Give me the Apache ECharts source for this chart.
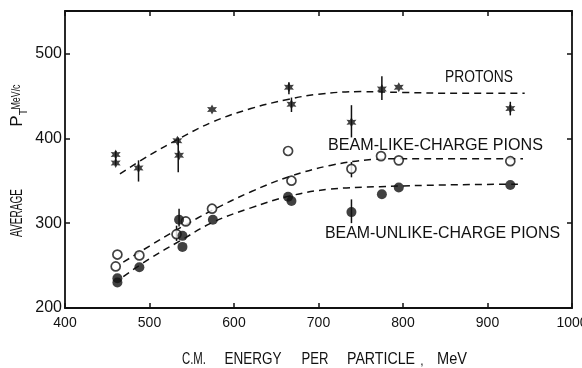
<!DOCTYPE html>
<html>
<head>
<meta charset="utf-8">
<script src="https://cdn.jsdelivr.net/npm/echarts@6/dist/echarts.min.js"></script>
<style>
  html, body { margin: 0; padding: 0; background: #fff; }
  #chart { width: 582px; height: 368px; }
</style>
</head>
<body>
<div id="chart"></div>
<script>
// ---- Data ----
const xTicks = [400, 500, 600, 700, 800, 900, 1000];
const yTicks = [200, 300, 400, 500];

// Protons (stars)
const protonX = [460, 460, 487, 533, 535, 574, 665, 668, 739, 775, 795, 927];
const protonY = [381, 371, 365, 397, 380, 434, 460, 440, 419, 458, 460, 435];
const protonErrX  = [460, 487, 534, 665, 668, 739, 775, 927];
const protonErrLo = [368, 349, 360, 452, 431, 401, 445, 427];
const protonErrHi = [385, 374, 401, 466, 448, 439, 473, 443];

// Beam-like-charge pions (open circles)
const likeX = [460, 462, 488, 532, 543, 574, 664, 668, 739, 774, 795, 927];
const likeY = [249, 263, 262, 287, 302, 317, 385, 350, 364, 379, 374, 373];
const likeErrX  = [532, 739];
const likeErrLo = [279, 354];
const likeErrHi = [297, 372];

// Beam-unlike-charge pions (filled circles)
const unlikeX = [462, 462, 488, 535, 539, 539, 575, 664, 668, 739, 775, 795, 927];
const unlikeY = [235, 230, 248, 304, 285, 272, 304, 331, 326, 313, 334, 342, 345];
const unlikeErrX  = [535, 739];
const unlikeErrLo = [296, 300];
const unlikeErrHi = [317, 328];

// Dashed guide curves
const protonCurveX = [465, 500, 536, 574, 620, 665, 700, 750, 800, 870, 944];
const protonCurveY = [358, 380, 400, 419, 435, 446, 452, 455, 454, 453, 453];
const likeCurveX = [469, 500, 532, 574, 620, 666, 714, 764, 800, 870, 942];
const likeCurveY = [254, 273, 292, 315, 337, 355, 368, 375, 376, 376, 376];
const unlikeCurveX = [469, 500, 536, 575, 620, 666, 713, 773, 850, 942];
const unlikeCurveY = [237, 258, 279, 301, 318, 332, 340, 343, 345, 346];

// Texts
const xTitleWords = ['C.M.', 'ENERGY', 'PER', 'PARTICLE', ',', 'MeV'];
const yTitleParts = ['AVERAGE', 'P', 'T', 'MeV/c'];
const curveLabels = ['PROTONS', 'BEAM-LIKE-CHARGE PIONS', 'BEAM-UNLIKE-CHARGE PIONS'];

// ---- Helpers ----
const INK = '#111';
const FONT = 'Liberation Sans';
const zip = (a, b) => a.map((v, i) => [v, b[i]]);
const zip3 = (a, b, c) => a.map((v, i) => [v, b[i], c[i]]);

const mctx = document.createElement('canvas').getContext('2d');
function fitScale(text, size, target) {
  mctx.font = size + 'px "' + FONT + '"';
  const w = mctx.measureText(text).width;
  return w > 0 ? target / w : 1;
}
function txt(text, x, y, size, targetW, opts) {
  opts = opts || {};
  const s = targetW ? fitScale(text, size, targetW) : 1;
  return {
    type: 'text', x: x, y: y, rotation: opts.rotation || 0,
    scaleX: s, scaleY: 1, silent: true,
    style: {
      text: text, fill: INK, font: size + 'px "' + FONT + '"',
      textAlign: opts.align || 'center', textVerticalAlign: 'middle'
    }
  };
}

const errRender = function (params, api) {
  const p1 = api.coord([api.value(0), api.value(1)]);
  const p2 = api.coord([api.value(0), api.value(2)]);
  return {
    type: 'line',
    shape: { x1: p1[0], y1: p1[1], x2: p2[0], y2: p2[1] },
    style: { stroke: INK, lineWidth: 1.5 }
  };
};

const starPath = 'path://M0,-10 L2.6,-4.5 L8.7,-5 L5.2,0 L8.7,5 L2.6,4.5 L0,10 L-2.6,4.5 L-8.7,5 L-5.2,0 L-8.7,-5 L-2.6,-4.5 Z';

const dashStyle = { color: INK, width: 1.5, type: [7, 5] };

const axisCommon = {
  axisLine: { show: true, onZero: false, lineStyle: { color: INK, width: 1.8 } },
  axisTick: { show: true, inside: true, length: 5, lineStyle: { color: INK, width: 1.5 } },
  splitLine: { show: false },
};

const chart = echarts.init(document.getElementById('chart'), null, { renderer: 'canvas' });

const option = {
  backgroundColor: '#fff',
  animation: false,
  grid: { left: 65, right: 10, top: 11, bottom: 60, containLabel: false, outerBoundsMode: 'none' },
  xAxis: [
    Object.assign({}, axisCommon, {
      type: 'value', position: 'bottom', min: xTicks[0], max: xTicks[xTicks.length - 1], interval: 100,
      axisLabel: { show: true, color: INK, fontSize: 14, fontFamily: FONT, margin: 8,
        formatter: v => String(v) }
    }),
    Object.assign({}, axisCommon, {
      type: 'value', position: 'top', min: xTicks[0], max: xTicks[xTicks.length - 1], interval: 100,
      axisLabel: { show: false }
    })
  ],
  yAxis: [
    Object.assign({}, axisCommon, {
      type: 'value', position: 'left', min: yTicks[0], max: 550, interval: 100,
      axisLabel: { show: true, color: INK, fontSize: 16, fontFamily: FONT, margin: 3,
        formatter: v => (yTicks.indexOf(v) >= 0 ? String(v) : '') }
    }),
    Object.assign({}, axisCommon, {
      type: 'value', position: 'right', min: yTicks[0], max: 550, interval: 100,
      axisLabel: { show: false }
    })
  ],
  series: [
    { type: 'line', data: zip(protonCurveX, protonCurveY), smooth: 0.4, symbol: 'none', lineStyle: dashStyle, z: 2 },
    { type: 'line', data: zip(likeCurveX, likeCurveY), smooth: 0.4, symbol: 'none', lineStyle: dashStyle, z: 2 },
    { type: 'line', data: zip(unlikeCurveX, unlikeCurveY), smooth: 0.4, symbol: 'none', lineStyle: dashStyle, z: 2 },
    { type: 'custom', renderItem: errRender, data: zip3(protonErrX, protonErrLo, protonErrHi), z: 3 },
    { type: 'custom', renderItem: errRender, data: zip3(likeErrX, likeErrLo, likeErrHi), z: 3 },
    { type: 'custom', renderItem: errRender, data: zip3(unlikeErrX, unlikeErrLo, unlikeErrHi), z: 3 },
    { type: 'scatter', data: zip(protonX, protonY), symbol: starPath, symbolSize: 10,
      itemStyle: { color: INK }, z: 4 },
    { type: 'scatter', data: zip(likeX, likeY), symbol: 'circle', symbolSize: 9,
      itemStyle: { color: '#fff', borderColor: INK, borderWidth: 1.7 }, z: 4 },
    { type: 'scatter', data: zip(unlikeX, unlikeY), symbol: 'circle', symbolSize: 10,
      itemStyle: { color: INK }, z: 4 }
  ],
  graphic: [
    // x-axis title words
    txt(xTitleWords[0], 194, 360, 16, 24),
    txt(xTitleWords[1], 253, 360, 16, 57),
    txt(xTitleWords[2], 315, 360, 16, 27),
    txt(xTitleWords[3], 381, 360, 16, 68),
    txt(xTitleWords[4], 422, 362, 12, 0),
    txt(xTitleWords[5], 452, 360, 16, 30),
    // y-axis title (rotated)
    txt(yTitleParts[0], 18, 213, 16, 48, { rotation: Math.PI / 2 }),
    txt(yTitleParts[1], 17, 121, 17, 0, { rotation: Math.PI / 2 }),
    txt(yTitleParts[2], 24, 112, 11, 0, { rotation: Math.PI / 2 }),
    txt(yTitleParts[3], 17, 97, 12, 25, { rotation: Math.PI / 2 }),
    // curve labels
    txt(curveLabels[0], 445, 78, 16, 68, { align: 'left' }),
    txt(curveLabels[1], 328, 145, 17, 215, { align: 'left' }),
    txt(curveLabels[2], 325, 233, 17, 235, { align: 'left' })
  ]
};

chart.setOption(option);
</script>
</body>
</html>
